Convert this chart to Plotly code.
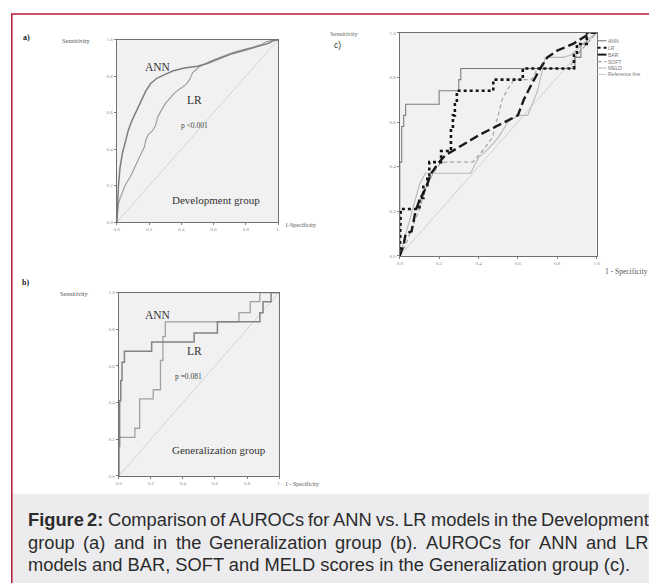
import plotly.graph_objects as go

# The page body adds an 8px margin, so the figure is drawn 8px smaller and all
# reference pixel positions are shifted by OFF.
VIEW_W, VIEW_H = 657, 586
OFF = 8
W, H = VIEW_W - OFF, VIEW_H - OFF

# ---------------- data ----------------
# (a) Development group
dev_ann_fpr = [0, 0.005, 0.01, 0.02, 0.035, 0.05, 0.07, 0.09, 0.11, 0.13, 0.15, 0.18, 0.21, 0.25, 0.30, 0.35, 0.42, 0.50, 0.56, 0.60, 0.66, 0.72, 0.78, 0.85, 0.90, 0.94, 0.97, 1.0]
dev_ann_tpr = [0, 0.10, 0.20, 0.30, 0.38, 0.43, 0.50, 0.55, 0.59, 0.63, 0.67, 0.72, 0.76, 0.79, 0.81, 0.83, 0.845, 0.855, 0.87, 0.885, 0.905, 0.925, 0.94, 0.955, 0.97, 0.98, 0.995, 1.0]
dev_lr_fpr = [0, 0.005, 0.01, 0.02, 0.035, 0.05, 0.07, 0.09, 0.11, 0.13, 0.15, 0.17, 0.18, 0.195, 0.22, 0.24, 0.255, 0.28, 0.30, 0.33, 0.36, 0.39, 0.43, 0.45, 0.47, 0.51, 0.55, 0.60, 0.66, 0.72, 0.78, 0.85, 0.90, 0.93, 0.96, 1.0]
dev_lr_tpr = [0, 0.05, 0.10, 0.13, 0.17, 0.20, 0.23, 0.26, 0.30, 0.34, 0.38, 0.41, 0.45, 0.48, 0.50, 0.53, 0.58, 0.62, 0.65, 0.68, 0.71, 0.73, 0.755, 0.78, 0.82, 0.85, 0.87, 0.89, 0.91, 0.93, 0.945, 0.96, 0.975, 0.99, 0.995, 1.0]

# (b) Generalization group
gen_ann_fpr = [0, 0, 0.005, 0.005, 0.012, 0.012, 0.02, 0.02, 0.035, 0.035, 0.205, 0.205, 0.47, 0.47, 0.615, 0.615, 0.88, 0.88, 0.90, 0.90, 0.95, 0.95, 1.0]
gen_ann_tpr = [0, 0.16, 0.16, 0.41, 0.41, 0.52, 0.52, 0.62, 0.62, 0.68, 0.68, 0.73, 0.73, 0.78, 0.78, 0.84, 0.84, 0.89, 0.89, 0.95, 0.95, 1.0, 1.0]
gen_lr_fpr = [0, 0, 0.10, 0.10, 0.13, 0.13, 0.215, 0.215, 0.26, 0.26, 0.275, 0.275, 0.29, 0.29, 0.75, 0.75, 0.82, 0.82, 0.88, 0.88, 1.0]
gen_lr_tpr = [0, 0.21, 0.21, 0.26, 0.26, 0.42, 0.42, 0.47, 0.47, 0.63, 0.63, 0.76, 0.76, 0.84, 0.84, 0.89, 0.89, 0.95, 0.95, 1.0, 1.0]

# (c) Generalization group: models and scores
c_ann_fpr = [0, 0, 0.01, 0.01, 0.02, 0.02, 0.03, 0.03, 0.20, 0.20, 0.30, 0.30, 0.31, 0.31, 0.89, 0.89, 0.92, 0.92, 0.95, 0.95, 1.0]
c_ann_tpr = [0, 0.42, 0.42, 0.58, 0.58, 0.63, 0.63, 0.68, 0.68, 0.74, 0.74, 0.79, 0.79, 0.84, 0.84, 0.89, 0.89, 0.95, 0.95, 1.0, 1.0]
c_lr_fpr = [0, 0.005, 0.10, 0.10, 0.12, 0.12, 0.14, 0.14, 0.15, 0.15, 0.21, 0.21, 0.26, 0.26, 0.27, 0.27, 0.28, 0.28, 0.29, 0.29, 0.475, 0.475, 0.625, 0.625, 0.885, 0.885, 0.90, 0.90, 0.95, 0.95, 1.0]
c_lr_tpr = [0, 0.21, 0.21, 0.26, 0.26, 0.31, 0.31, 0.36, 0.36, 0.42, 0.42, 0.47, 0.47, 0.57, 0.57, 0.63, 0.63, 0.68, 0.68, 0.74, 0.74, 0.79, 0.79, 0.84, 0.84, 0.90, 0.90, 0.95, 0.95, 1.0, 1.0]
c_bar_fpr = [0, 0.02, 0.03, 0.06, 0.08, 0.10, 0.13, 0.16, 0.20, 0.23, 0.40, 0.60, 0.63, 0.67, 0.72, 0.75, 0.80, 0.88, 0.97, 1.0]
c_bar_tpr = [0, 0.05, 0.10, 0.11, 0.20, 0.25, 0.30, 0.37, 0.42, 0.45, 0.54, 0.63, 0.70, 0.77, 0.85, 0.89, 0.92, 0.95, 1.0, 1.0]
c_soft_fpr = [0, 0.03, 0.06, 0.10, 0.13, 0.17, 0.21, 0.37, 0.42, 0.47, 0.50, 0.52, 0.55, 0.58, 0.67, 0.70, 0.86, 0.90, 0.95, 1.0]
c_soft_tpr = [0, 0.05, 0.12, 0.21, 0.30, 0.37, 0.42, 0.42, 0.47, 0.53, 0.63, 0.70, 0.75, 0.79, 0.79, 0.84, 0.84, 0.90, 0.95, 1.0]
c_meld_fpr = [0, 0.03, 0.05, 0.10, 0.13, 0.36, 0.40, 0.45, 0.50, 0.55, 0.60, 0.65, 0.70, 0.74, 0.83, 0.87, 0.93, 1.0]
c_meld_tpr = [0, 0.10, 0.16, 0.32, 0.37, 0.37, 0.44, 0.48, 0.53, 0.60, 0.63, 0.63, 0.74, 0.89, 0.89, 0.90, 0.95, 1.0]
ref_x = [0, 1]
ref_y = [0, 1]

tick_vals = [0, 0.2, 0.4, 0.6, 0.8, 1.0]
tick_text_ab_x = ["0.0", "0.2", "0.4", "0.6", "0.8", "1."]
tick_text_y = ["0.0", "0.2", "0.4", "0.6", "0.8", "1.0"]

legend_labels = ["ANN", "LR", "BAR", "SOFT", "MELD", "Reference line"]

caption_line1 = [("Figure", True), ("2:", True), ("Comparison", False), ("of", False), ("AUROCs", False),
                 ("for", False), ("ANN", False), ("vs.", False), ("LR", False), ("models", False),
                 ("in", False), ("the", False), ("Development", False)]
caption_line2 = ["group", "(a)", "and", "in", "the", "Generalization", "group", "(b).", "AUROCs",
                 "for", "ANN", "and", "LR"]
caption_line3 = "models and BAR, SOFT and MELD scores in the Generalization group (c)."

# ---------------- styles ----------------
styles = {
    "ANN": dict(color="#7c7c7c", width=1.1, dash="solid"),
    "LR": dict(color="#151515", width=2.6, dash="dot"),
    "BAR": dict(color="#1a1a1a", width=2.4, dash="9px,4px"),
    "SOFT": dict(color="#a3a3a3", width=1.2, dash="4px,3px"),
    "MELD": dict(color="#b9b9b9", width=1.1, dash="solid"),
    "Reference line": dict(color="#d0d0d0", width=1.0, dash="solid"),
}

fig = go.Figure()

def px(x):
    return (x - OFF) / W

def py(y):
    return 1 - (y - OFF) / H

panels = {
    "a": dict(x0=115, x1=278, y0=38, y1=222, ax=""),
    "b": dict(x0=117, x1=279, y0=293, y1=478, ax="2"),
    "c": dict(x0=401, x1=600, y0=31, y1=256, ax="3"),
}

def add(x, y, panel, color, width, dash="solid"):
    s = panels[panel]["ax"]
    fig.add_trace(go.Scatter(x=x, y=y, mode="lines", xaxis="x" + s, yaxis="y" + s,
                             line=dict(color=color, width=width, dash=dash),
                             hoverinfo="skip", showlegend=False))

# panel a
add(ref_x, ref_y, "a", "#d2d2d2", 1.0)
add(dev_lr_fpr, dev_lr_tpr, "a", "#a0a0a0", 1.2)
add(dev_ann_fpr, dev_ann_tpr, "a", "#7e7e7e", 1.5)
# panel b
add(ref_x, ref_y, "b", "#d2d2d2", 1.0)
add(gen_lr_fpr, gen_lr_tpr, "b", "#a0a0a0", 1.3)
add(gen_ann_fpr, gen_ann_tpr, "b", "#838383", 1.5)
# panel c
c_series = {
    "Reference line": (ref_x, ref_y),
    "MELD": (c_meld_fpr, c_meld_tpr),
    "SOFT": (c_soft_fpr, c_soft_tpr),
    "ANN": (c_ann_fpr, c_ann_tpr),
    "BAR": (c_bar_fpr, c_bar_tpr),
    "LR": (c_lr_fpr, c_lr_tpr),
}
for name, (xx, yy) in c_series.items():
    st = styles[name]
    add(xx, yy, "c", st["color"], st["width"], st["dash"])

axis_common = dict(range=[0, 1], showgrid=False, zeroline=False, showline=True, mirror=True,
                   linecolor="#707070", linewidth=1, ticks="outside", ticklen=2, tickwidth=1,
                   tickcolor="#808080", tickvals=tick_vals, fixedrange=True,
                   tickfont=dict(family="Liberation Serif", size=5, color="#8a8a8a"))

layout = dict(width=W, height=H, margin=dict(l=0, r=0, t=0, b=0), paper_bgcolor="white",
              plot_bgcolor="#f1f1f1", showlegend=False)
for key, p in panels.items():
    s = p["ax"]
    xt = tick_text_ab_x if key in ("a", "b") else tick_text_y
    layout["xaxis" + s] = dict(axis_common, domain=[px(p["x0"]), px(p["x1"])], anchor="y" + s,
                               ticktext=xt)
    layout["yaxis" + s] = dict(axis_common, domain=[py(p["y1"]), py(p["y0"])], anchor="x" + s,
                               ticktext=tick_text_y)
fig.update_layout(**layout)

shapes = []
annotations = []

def ann(text, x, y, size, family="Liberation Serif", color="#333333", xanchor="center", bold=False):
    if bold:
        text = "<b>" + text + "</b>"
    annotations.append(dict(text=text, x=px(x), y=py(y), xref="paper", yref="paper",
                            xanchor=xanchor, yanchor="middle", showarrow=False,
                            borderpad=0, borderwidth=0,
                            font=dict(family=family, size=size, color=color)))

# caption background and red frame
shapes.append(dict(type="rect", xref="paper", yref="paper", x0=px(9), x1=1, y0=0, y1=py(496),
                   fillcolor="#ececee", line=dict(width=0), layer="below"))
shapes.append(dict(type="line", xref="paper", yref="paper", x0=px(8), x1=1, y0=py(12), y1=py(12),
                   line=dict(color="#b3173c", width=1.5)))
shapes.append(dict(type="line", xref="paper", yref="paper", x0=px(8.8), x1=px(8.8), y0=py(12), y1=0,
                   line=dict(color="#b3173c", width=1.5)))

# panel a texts
ann("a)", 24, 36, 8, bold=True, color="#222")
ann("Sensitivity", 74, 39, 6.5, color="#555")
ann("ANN", 157, 65, 11.5, color="#333")
ann("LR", 193, 99, 11.5, color="#333")
ann("p &lt;0.001", 193, 125, 7.5, color="#444")
ann("Development group", 215, 200, 11, color="#333")
ann("1-Specificity", 301, 225, 6, color="#555")
# panel b texts
ann("b)", 23, 283, 8, bold=True, color="#222")
ann("Sensitivity", 72, 294, 6.5, color="#555")
ann("ANN", 157, 316, 11.5, color="#333")
ann("LR", 194, 352, 11.5, color="#333")
ann("p =0.081", 187, 378, 7.5, color="#444")
ann("Generalization group", 218, 452, 11, color="#333")
ann("1 - Specificity", 302, 486, 6, color="#555")
# panel c texts
ann("Sensitivity", 345, 32, 6.5, color="#666")
ann("c)", 338, 43, 8.5, family="Liberation Sans", color="#333")
ann("1 - Specificity", 630, 272, 7.5, color="#555")

# panel c legend (manual, compact)
leg_y = [39, 46, 53, 60, 66.5, 73]
for name, yy in zip(legend_labels, leg_y):
    st = styles[name]
    shapes.append(dict(type="line", xref="paper", yref="paper", x0=px(601), x1=px(610),
                       y0=py(yy), y1=py(yy),
                       line=dict(color=st["color"], width=min(st["width"], 2.0), dash=st["dash"])))
    ann(name, 612, yy, 5, family="Liberation Sans", color="#777", xanchor="left")

# caption with justified lines
REG = dict(zip("abcdefghijklmnopqrstuvwxyz",
               [556, 556, 500, 556, 556, 278, 556, 556, 222, 222, 500, 222, 833, 556, 556, 556,
                556, 333, 500, 278, 556, 500, 722, 500, 500, 500]))
REG.update(dict(zip("ABCDEFGHIJKLMNOPQRSTUVWXYZ",
                    [667, 667, 722, 722, 667, 611, 778, 722, 278, 500, 667, 556, 833, 722, 778,
                     667, 778, 722, 667, 611, 722, 667, 944, 667, 667, 611])))
REG.update({" ": 278, "(": 333, ")": 333, ".": 278, ",": 278, ":": 278})
for d in "0123456789":
    REG[d] = 556
BOLD = dict(REG)
BOLD.update({"F": 611, "i": 278, "g": 611, "u": 611, "r": 389, "e": 556, "2": 556, ":": 333})

CAP_SIZE = 18.3
CAP_X0, CAP_X1 = 25, 652

def tw(s, bold=False):
    t = BOLD if bold else REG
    return sum(t.get(ch, 556) for ch in s) * CAP_SIZE / 1000

def justify(words, y):
    widths = [tw(w, b) for w, b in words]
    gap = (CAP_X1 - CAP_X0 - sum(widths)) / (len(words) - 1)
    x = CAP_X0
    for (w, b), wd in zip(words, widths):
        ann(w, x, y, CAP_SIZE, family="Liberation Sans", color="#2b2b2b", xanchor="left", bold=b)
        x += wd + gap

justify(caption_line1, 522)
justify([(w, False) for w in caption_line2], 545)
ann(caption_line3, CAP_X0, 567, CAP_SIZE, family="Liberation Sans", color="#2b2b2b", xanchor="left")

fig.update_layout(shapes=shapes, annotations=annotations)
fig.write_html("out.html", config={"displayModeBar": False})
